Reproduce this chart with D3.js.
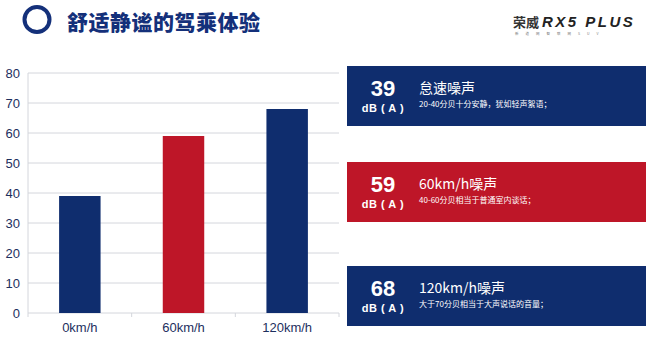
<!DOCTYPE html>
<html><head><meta charset="utf-8">
<script src="https://cdn.jsdelivr.net/npm/d3@7"></script>
<style>
html,body{margin:0;padding:0;background:#fff;}
svg{display:block;font-family:Arial,"Liberation Sans","Noto Sans CJK SC",sans-serif;}
</style></head>
<body>
<script>
// 舒适静谧的驾乘体验：三档车速噪声柱图 + 右侧说明卡
const categories = ["0km/h", "60km/h", "120km/h"];
const values = [39, 59, 68];
const barColors = ["#0f2d6e", "#be1628", "#0f2d6e"];
const yTicks = [0, 10, 20, 30, 40, 50, 60, 70, 80];
const cardTitles = ["怠速噪声", "60km/h噪声", "120km/h噪声"];
const cardDescs = ["20-40分贝十分安静，犹如轻声絮语；", "40-60分贝相当于普通室内谈话；", "大于70分贝相当于大声说话的音量；"];

const W = 650, H = 352;
const NAVY = "#14307a", GRID = "#d4d6dc", INK = "#1d2f5e";
const FONT = `Arial,"Liberation Sans","Noto Sans CJK SC",sans-serif`;
const CJK = `"Noto Sans CJK SC",sans-serif`;

const svg = d3.select("body").append("svg").attr("width", W).attr("height", H);

// 标题
svg.append("circle").attr("cx", 37).attr("cy", 19.5).attr("r", 12.5)
  .attr("fill", "none").attr("stroke", NAVY).attr("stroke-width", 4);
svg.append("text").attr("x", 67).attr("y", 30)
  .attr("style", `font:900 21px ${CJK};fill:${NAVY};letter-spacing:0.5px`)
  .text("舒适静谧的驾乘体验");

// logo
svg.append("text").attr("x", 513).attr("y", 27)
  .attr("style", `font:700 13px ${CJK};fill:#333`).text("荣威");
svg.append("text").attr("x", 542).attr("y", 27)
  .attr("style", `font:italic 700 15px ${FONT};fill:#222;letter-spacing:2.5px`).text("RX5 PLUS");
svg.append("text").attr("x", 515).attr("y", 35)
  .attr("style", `font:3.5px ${CJK};fill:#777;letter-spacing:7px`).text("新道网智联网SUV");

// 柱图
const x = d3.scaleBand().domain(categories).range([28, 339]).padding(0);
const y = d3.scaleLinear().domain([0, 80]).range([313, 73]);

yTicks.forEach(v => {
  svg.append("line").attr("x1", 28).attr("x2", 339)
    .attr("y1", y(v)).attr("y2", y(v))
    .attr("stroke", GRID).attr("stroke-width", 1);
  svg.append("text").attr("x", 20).attr("y", y(v) + 4.5)
    .attr("text-anchor", "end")
    .attr("style", `font:13px ${FONT};fill:${INK}`).text(v);
});
svg.append("line").attr("x1", 28).attr("x2", 28).attr("y1", y(80)).attr("y2", y(0))
  .attr("stroke", GRID);
[...categories.map(c => x(c)), 339].forEach(t => {
  svg.append("line").attr("x1", t).attr("x2", t).attr("y1", y(0)).attr("y2", y(0) + 4)
    .attr("stroke", GRID);
});

const bw = x.bandwidth() * 0.4;
categories.forEach((c, i) => {
  const cx = x(c) + x.bandwidth() / 2;
  svg.append("rect").attr("x", cx - bw / 2).attr("y", y(values[i]))
    .attr("width", bw).attr("height", y(0) - y(values[i]))
    .attr("fill", barColors[i]);
  svg.append("text").attr("x", cx).attr("y", 332).attr("text-anchor", "middle")
    .attr("style", `font:13px ${FONT};fill:${INK}`).text(c);
});

// 右侧说明卡
const cardTop = [66, 162, 266];
const CX = 347, CW = 299, CH = 60;
values.forEach((v, i) => {
  const g = svg.append("g").attr("transform", `translate(${CX},${cardTop[i]})`);
  g.append("rect").attr("width", CW).attr("height", CH).attr("fill", barColors[i]);
  g.append("text").attr("x", 36).attr("y", 30).attr("text-anchor", "middle")
    .attr("style", `font:700 22px ${FONT};fill:#fff`).text(v);
  g.append("text").attr("x", 36).attr("y", 46).attr("text-anchor", "middle")
    .attr("style", `font:700 11px ${FONT};fill:#fff;letter-spacing:0.5px`).text("dB ( A )");
  g.append("text").attr("x", 72).attr("y", 27)
    .attr("style", `font:14px ${CJK};fill:#fff`).text(cardTitles[i]);
  g.append("text").attr("x", 72).attr("y", 41)
    .attr("style", `font:8px ${CJK};fill:#fff`).text(cardDescs[i]);
});
</script>
</body></html>
